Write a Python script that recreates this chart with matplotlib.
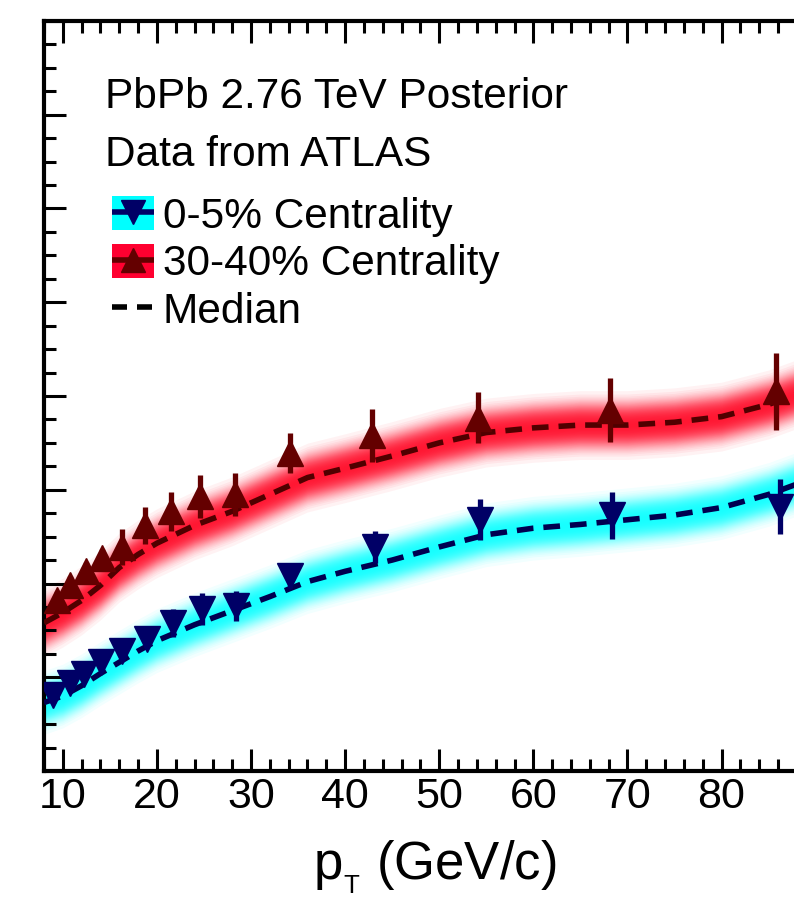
import matplotlib
matplotlib.use('Agg')
import matplotlib.pyplot as plt
import numpy as np
from matplotlib.patches import Patch
from matplotlib.lines import Line2D
from matplotlib.ticker import MultipleLocator

plt.rcParams['font.family'] = ['Liberation Sans', 'DejaVu Sans']
plt.rcParams['mathtext.fontset'] = 'custom'
plt.rcParams['mathtext.rm'] = 'Liberation Sans'

# ATLAS points, 0-5% centrality
pt_0_5 = [8.97, 10.74, 12.23, 14.1, 16.27, 18.9, 21.7, 24.74, 28.4, 34.12, 43.2, 54.3, 68.4, 86.2]
raa_0_5 = [0.281, 0.294, 0.303, 0.316, 0.328, 0.341, 0.358, 0.373, 0.376, 0.408, 0.439, 0.468, 0.473, 0.482]
err_0_5 = [0.008, 0.008, 0.008, 0.008, 0.008, 0.010, 0.015, 0.017, 0.016, 0.013, 0.017, 0.022, 0.025, 0.029]

# ATLAS points, 30-40% centrality
pt_30_40 = [9.33, 10.74, 12.5, 14.14, 16.27, 18.71, 21.48, 24.63, 28.28, 34.12, 42.9, 54.1, 68.1, 85.8]
raa_30_40 = [0.382, 0.398, 0.413, 0.427, 0.439, 0.462, 0.477, 0.493, 0.495, 0.539, 0.558, 0.577, 0.585, 0.605]
err_30_40 = [0.010, 0.010, 0.010, 0.010, 0.019, 0.020, 0.021, 0.023, 0.023, 0.021, 0.028, 0.027, 0.034, 0.041]

# posterior medians
pt_curve = [8, 10, 12, 14, 16, 18, 20, 24, 28, 32, 36, 40, 45, 50, 55, 60, 65, 70, 75, 80, 85, 88]
med_0_5 = [0.273, 0.280, 0.291, 0.304, 0.316, 0.328, 0.339, 0.356, 0.371, 0.386, 0.402, 0.413,
           0.425, 0.439, 0.452, 0.459, 0.463, 0.468, 0.473, 0.481, 0.495, 0.506]
med_30_40 = [0.358, 0.369, 0.382, 0.398, 0.417, 0.431, 0.443, 0.462, 0.477, 0.495, 0.513, 0.523,
             0.536, 0.550, 0.561, 0.566, 0.569, 0.569, 0.572, 0.578, 0.591, 0.602]

navy = '#000066'
dred = '#640000'

fig = plt.figure(figsize=(7.94, 9.02), dpi=100)
ax = fig.add_axes([44/794, 131/902, 750/794, 750/902])


def band(x, y, color, sigma, n=40, a=0.05):
    x = np.array(x)
    y = np.array(y)
    for k in range(1, n + 1):
        w = sigma * np.sqrt(2 * np.log((n + 0.5) / k))
        ax.fill_between(x, y - w, y + w, color=color, alpha=a, lw=0, zorder=1)


band(pt_curve, med_30_40, '#ff0020', 0.0135)
band(pt_curve, med_0_5, '#00ffff', 0.0125)

ax.plot(pt_curve, med_30_40, color='#500000', lw=4, dashes=(3, 1.8), zorder=3)
ax.plot(pt_curve, med_0_5, color='#000050', lw=4, dashes=(3, 1.8), zorder=3)

ax.errorbar(pt_30_40, raa_30_40, yerr=err_30_40, fmt='^', color=dred, ms=18.5,
            elinewidth=3.8, capsize=0, zorder=4)
ax.errorbar(pt_0_5, raa_0_5, yerr=err_0_5, fmt='v', color=navy, ms=18.5,
            elinewidth=3.8, capsize=0, zorder=4)

ax.set_xlim(8, 87.7)
ax.set_ylim(0.2, 1.0)
ax.xaxis.set_major_locator(MultipleLocator(10))
ax.xaxis.set_minor_locator(MultipleLocator(2))
ax.yaxis.set_major_locator(MultipleLocator(0.1))
ax.yaxis.set_minor_locator(MultipleLocator(0.025))
ax.tick_params(which='both', direction='in', top=True, right=False, left=True,
               labelleft=False, width=2.2, labelsize=31, pad=4)
ax.tick_params(which='major', length=16)
ax.tick_params(which='minor', length=8.5)
ax.spines['right'].set_visible(False)
for s in ['left', 'top', 'bottom']:
    ax.spines[s].set_linewidth(3)

ax.set_xlabel(r'p$_{\mathregular{_T}}$ (GeV/c)', fontsize=38)
ax.xaxis.set_label_coords(0.521, -0.144)
ax.xaxis.label.set_va('baseline')

fig.text(105/794, (902-108)/902, 'PbPb 2.76 TeV Posterior', fontsize=30.5, va='baseline')
fig.text(105/794, (902-166)/902, 'Data from ATLAS', fontsize=30.5, va='baseline')

h1 = (Patch(facecolor='#00ffff', lw=0),
      Line2D([], [], color=navy, lw=4, marker='v', ms=17, solid_capstyle='butt'))
h2 = (Patch(facecolor='#ff0030', lw=0),
      Line2D([], [], color=dred, lw=4, marker='^', ms=17, solid_capstyle='butt'))
h3 = Line2D([], [], color='black', lw=4, dashes=(2.7, 1.8))
ax.legend([h1, h2, h3], ['0-5% Centrality', '30-40% Centrality', 'Median'],
          loc='upper left', bbox_to_anchor=(112/794, (902-196)/902),
          bbox_transform=fig.transFigure, frameon=False, fontsize=30.5,
          handlelength=1.0, handleheight=0.85, handletextpad=0.2,
          labelspacing=0.17, borderpad=0, borderaxespad=0)

fig.savefig('out.png', dpi=100)
